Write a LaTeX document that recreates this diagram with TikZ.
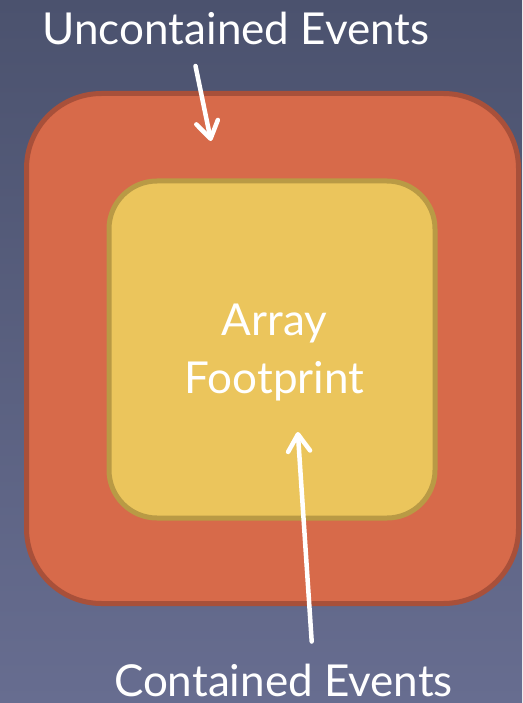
\documentclass[tikz,border=0pt]{standalone}
\usepackage{fontspec}
\setmainfont{Lato}
\usetikzlibrary{arrows.meta}

\definecolor{bgtop}{HTML}{4B526E}
\definecolor{bgbottom}{HTML}{676D90}
\definecolor{outerfill}{HTML}{D76A4A}
\definecolor{outerline}{HTML}{A8503A}
\definecolor{innerfill}{HTML}{EBC55C}
\definecolor{innerline}{HTML}{B99A45}

\tikzset{
  panel/.style={draw, line width=5pt, inner sep=0pt, outer sep=0pt},
  caption/.style={text=white, font=\fontsize{44}{52}\selectfont, anchor=base, inner sep=0pt},
  centrelabel/.style={text=white, font=\fontsize{44}{58}\selectfont, align=center, inner sep=0pt},
  pointer/.style={white, line width=4.5pt, line cap=round, line join=round,
    -{Straight Barb[length=17pt, width=22pt, line cap=round, line join=round]}},
}

\begin{document}
\begin{tikzpicture}[x=1pt, y=-1pt]
  % backdrop
  \useasboundingbox (0,0) rectangle (522,703);
  \shade[top color=bgtop, bottom color=bgbottom] (0,0) rectangle (522,703);

  % nested regions
  \node[panel, draw=outerline, fill=outerfill, rounded corners=75pt,
        minimum width=492pt, minimum height=510pt] (outer) at (272.5,348.5) {};
  \node[panel, draw=innerline, fill=innerfill, rounded corners=48pt,
        minimum width=326pt, minimum height=337pt] (inner) at (272,349.5) {};

  % labels
  \node[caption] (uncont) at (236,45) {Uncontained Events};
  \node[caption] (cont) at (283.5,696) {Contained Events};
  \node[centrelabel] (foot) at (274.5,352.5) {Array\\Footprint};

  % pointers
  \coordinate (utail) at (195.5,66);
  \coordinate (utip) at (211,141);
  \coordinate (ctail) at (311.7,641.5);
  \coordinate (ctip) at (297.8,432);
  \draw[pointer] (utail) -- (utip);
  \draw[pointer] (ctail) -- (ctip);
\end{tikzpicture}
\end{document}
